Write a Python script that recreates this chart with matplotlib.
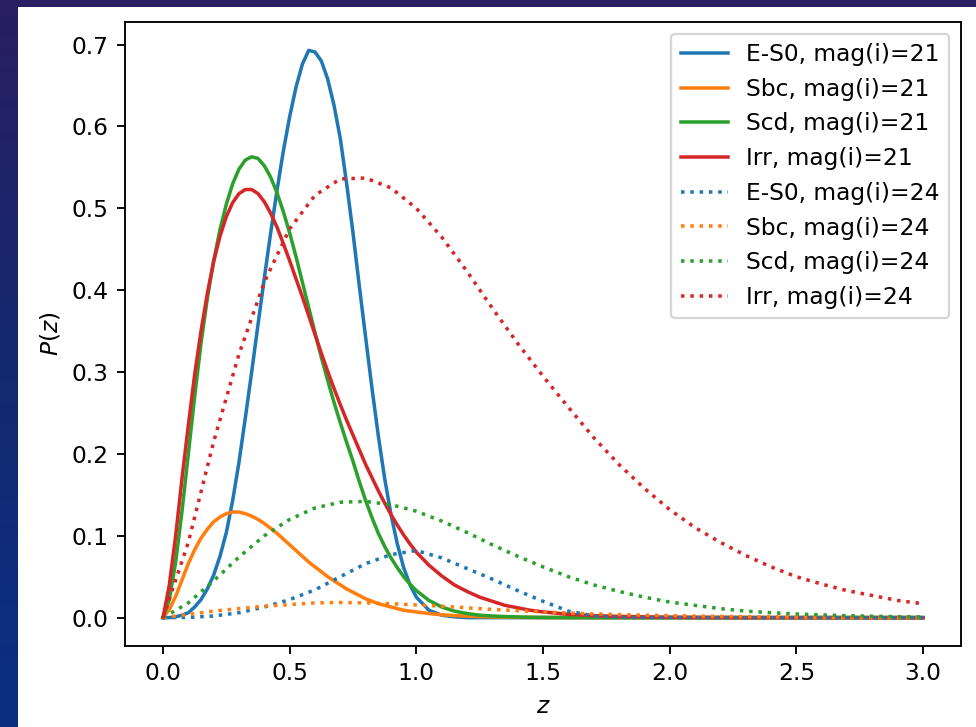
import numpy as np
import matplotlib
matplotlib.use("Agg")
import matplotlib.pyplot as plt
from matplotlib.patches import Rectangle
from matplotlib.colors import LinearSegmentedColormap

# redshift sample positions
z_solid = np.round(np.concatenate([np.arange(0, 1.0001, 0.025),
                                   np.arange(1.05, 1.5001, 0.05),
                                   np.arange(1.6, 3.0001, 0.1)]), 3)
z_dotted = np.round(np.arange(0, 3.0001, 0.1), 3)

# mag(i)=21 curves
es0_21 = [0.000, 0.000, 0.001, 0.003, 0.006, 0.013, 0.022, 0.035, 0.052, 0.075,
          0.104, 0.143, 0.190, 0.244, 0.300, 0.358, 0.415, 0.470, 0.522, 0.570,
          0.612, 0.648, 0.676, 0.693, 0.691, 0.680, 0.658, 0.626, 0.585, 0.530,
          0.470, 0.405, 0.342, 0.280, 0.222, 0.170, 0.126, 0.090, 0.061, 0.040,
          0.025,
          0.009, 0.003, 0.001, 0.000, 0.000, 0.000, 0.000, 0.000, 0.000, 0.000,
          0, 0, 0, 0, 0, 0, 0, 0, 0, 0, 0, 0, 0, 0, 0]
sbc_21 = [0.000, 0.010, 0.026, 0.046, 0.066, 0.083, 0.097, 0.108, 0.117, 0.123,
          0.127, 0.129, 0.129, 0.127, 0.124, 0.120, 0.115, 0.109, 0.103, 0.096,
          0.089, 0.082, 0.075, 0.068, 0.062, 0.056, 0.050, 0.045, 0.040, 0.035,
          0.031, 0.027, 0.023, 0.020, 0.017, 0.015, 0.013, 0.011, 0.009, 0.008,
          0.007,
          0.005, 0.0035, 0.0025, 0.0018, 0.0012, 0.0008, 0.0005, 0.0003, 0.0002, 0.0001,
          0, 0, 0, 0, 0, 0, 0, 0, 0, 0, 0, 0, 0, 0, 0]
scd_21 = [0.000, 0.022, 0.068, 0.130, 0.200, 0.270, 0.335, 0.390, 0.436, 0.474,
          0.505, 0.530, 0.548, 0.559, 0.563, 0.561, 0.552, 0.538, 0.519, 0.496,
          0.470, 0.441, 0.410, 0.379, 0.348, 0.318, 0.290, 0.263, 0.238, 0.214,
          0.191, 0.166, 0.143, 0.122, 0.103, 0.087, 0.073, 0.061, 0.050, 0.041,
          0.033,
          0.021, 0.013, 0.008, 0.005, 0.003, 0.002, 0.0013, 0.0008, 0.0005, 0.0003,
          0, 0, 0, 0, 0, 0, 0, 0, 0, 0, 0, 0, 0, 0, 0]
irr_21 = [0.000, 0.040, 0.100, 0.170, 0.235, 0.297, 0.350, 0.396, 0.435, 0.466,
          0.490, 0.507, 0.518, 0.523, 0.523, 0.518, 0.508, 0.494, 0.477, 0.457,
          0.436, 0.414, 0.392, 0.369, 0.346, 0.323, 0.301, 0.280, 0.260, 0.241,
          0.223, 0.205, 0.187, 0.171, 0.155, 0.140, 0.126, 0.113, 0.101, 0.090,
          0.080,
          0.064, 0.051, 0.040, 0.032, 0.025, 0.020, 0.015, 0.012, 0.009, 0.007,
          0.004, 0.0025, 0.0015, 0.0009, 0.0005, 0.0003, 0.0002, 0, 0, 0, 0, 0, 0, 0, 0]

# mag(i)=24 curves
es0_24 = [0.000, 0.0003, 0.002, 0.006, 0.013, 0.022, 0.034, 0.050, 0.066, 0.077,
          0.082, 0.073, 0.060, 0.047, 0.033, 0.020, 0.008, 0.002, 0.0004, 0.0,
          0.0, 0.0, 0.0, 0.0, 0.0, 0.0, 0.0, 0.0, 0.0, 0.0, 0.0]
sbc_24 = [0.000, 0.004, 0.008, 0.011, 0.014, 0.016, 0.018, 0.0185, 0.018, 0.017,
          0.0155, 0.014, 0.012, 0.010, 0.0085, 0.007, 0.0057, 0.0046, 0.0037, 0.003,
          0.0024, 0.0019, 0.0015, 0.0012, 0.0009, 0.0007, 0.0005, 0.0004, 0.0003, 0.0002,
          0.0002]
scd_24 = [0.000, 0.018, 0.045, 0.074, 0.100, 0.120, 0.134, 0.141, 0.142, 0.138,
          0.130, 0.118, 0.104, 0.089, 0.075, 0.062, 0.050, 0.040, 0.032, 0.025,
          0.019, 0.015, 0.011, 0.008, 0.006, 0.0045, 0.0033, 0.0024, 0.0017, 0.0012,
          0.0009]
irr_24 = [0.000, 0.092, 0.215, 0.322, 0.410, 0.475, 0.516, 0.536, 0.537, 0.525,
          0.500, 0.465, 0.423, 0.378, 0.335, 0.295, 0.257, 0.220, 0.187, 0.158,
          0.132, 0.110, 0.092, 0.076, 0.062, 0.050, 0.041, 0.033, 0.027, 0.021,
          0.017]

labels_21 = ["E-S0, mag(i)=21", "Sbc, mag(i)=21", "Scd, mag(i)=21", "Irr, mag(i)=21"]
labels_24 = ["E-S0, mag(i)=24", "Sbc, mag(i)=24", "Scd, mag(i)=24", "Irr, mag(i)=24"]
colors = ["#1f77b4", "#ff7f0e", "#2ca02c", "#d62728"]

W, H = 976, 727
DPI = 168.5
fig = plt.figure(figsize=(W / DPI, H / DPI), dpi=DPI, facecolor="white")

# slide background: purple strip on top, gradient strip on the left
fig.patches.append(Rectangle((0, (H - 7) / H), 1, 7 / H, transform=fig.transFigure,
                             facecolor="#2a1f62", edgecolor="none", zorder=0))
bg = fig.add_axes([0, 0, 18 / W, 1])
grad = np.linspace(0, 1, 256).reshape(-1, 1)
cm = LinearSegmentedColormap.from_list("bg", ["#2a1f62", "#14296f", "#0b2f84"])
bg.imshow(grad, aspect="auto", cmap=cm, extent=[0, 1, 0, 1], origin="upper")
bg.axis("off")

ax = fig.add_axes([125 / W, 81 / H, 836 / W, 624 / H])
for vals, lab, c in zip([es0_21, sbc_21, scd_21, irr_21], labels_21, colors):
    ax.plot(z_solid, vals, color=c, linestyle="-", label=lab)
for vals, lab, c in zip([es0_24, sbc_24, scd_24, irr_24], labels_24, colors):
    ax.plot(z_dotted, vals, color=c, linestyle=":", label=lab)

ax.set_xlabel("$z$")
ax.set_ylabel("$P(z)$")
ax.legend(loc="upper right")

fig.savefig("out.png", dpi=DPI)
